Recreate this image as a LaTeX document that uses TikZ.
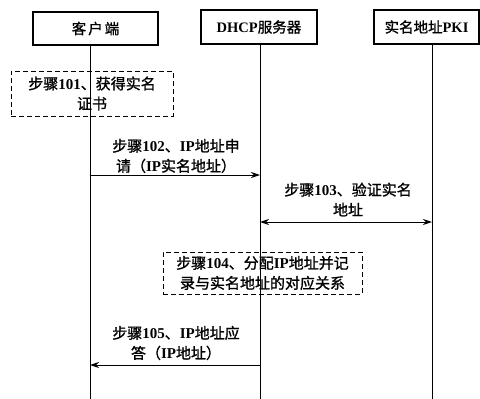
\documentclass[tikz,border=0pt]{standalone}
\usepackage{fontspec}
\setmainfont{Liberation Serif}
\newfontfamily\cjk[FakeBold=1.2]{Noto Sans CJK SC}
\usetikzlibrary{arrows.meta}
\newcommand{\lt}[1]{{\rmfamily\bfseries #1}}
\begin{document}
\begin{tikzpicture}[x=1pt,y=-1pt,
  actor/.style={draw,line width=1.2pt,inner sep=0pt,font=\cjk\fontsize{14.5}{18}\selectfont},
  life/.style={line width=1pt},
  note/.style={draw,line width=1pt,dash pattern=on 5pt off 3pt,inner sep=0pt,align=center,font=\cjk\fontsize{15}{20}\selectfont},
  lbl/.style={inner sep=0pt,align=center,font=\cjk\fontsize{15}{20}\selectfont},
  msg/.style={line width=1pt,-{Stealth[length=9pt,width=6pt]}},
  msgb/.style={line width=1pt,{Stealth[length=9pt,width=6pt]}-{Stealth[length=9pt,width=6pt]}}]
\useasboundingbox (0,0) rectangle (480,399);
% actors
\node[actor,minimum width=125pt,minimum height=33pt] (client) at (95.5,28.5) {客\hspace{2pt}户\hspace{2pt}端};
\node[actor,minimum width=116pt,minimum height=34pt] (dhcp) at (259,27) {\lt{DHCP}服务器};
\node[actor,minimum width=105pt,minimum height=34pt] (pki) at (426.5,27) {实名地址\lt{PKI}};
% lifelines
\coordinate (cT) at (90,45);  \coordinate (cB) at (90,399);
\coordinate (sT) at (260,44); \coordinate (sB) at (260,399);
\coordinate (pT) at (432,44); \coordinate (pB) at (432,399);
\draw[life] (cT) -- (cB);
\draw[life] (sT) -- (sB);
\draw[life] (pT) -- (pB);
% step 101
\node[note,minimum width=162pt,minimum height=45pt] (n101) at (92,93.5) {步骤\lt{101}、获得实名\\证书};
% step 102
\coordinate (c102) at (90,175); \coordinate (s102) at (260,175);
\draw[msg] (c102) -- (s102);
\node[lbl] (l102) at (176,156) {步骤\lt{102}、\lt{IP}地址申\\请（\lt{IP}实名地址）};
% step 103
\coordinate (s103) at (260,222); \coordinate (p103) at (432,222);
\draw[msgb] (s103) -- (p103);
\node[lbl] (l103) at (348,199.5) {步骤\lt{103}、验证实名\\地址};
% step 104
\node[note,minimum width=199pt,minimum height=42pt] (n104) at (262.5,273) {步骤\lt{104}、分配\lt{IP}地址并记\\录与实名地址的对应关系};
% step 105
\coordinate (s105) at (260,365); \coordinate (c105) at (90,365);
\draw[msg] (s105) -- (c105);
\node[lbl] (l105) at (176,343) {步骤\lt{105}、\lt{IP}地址应\\答（\lt{IP}地址）};
\end{tikzpicture}
\end{document}
